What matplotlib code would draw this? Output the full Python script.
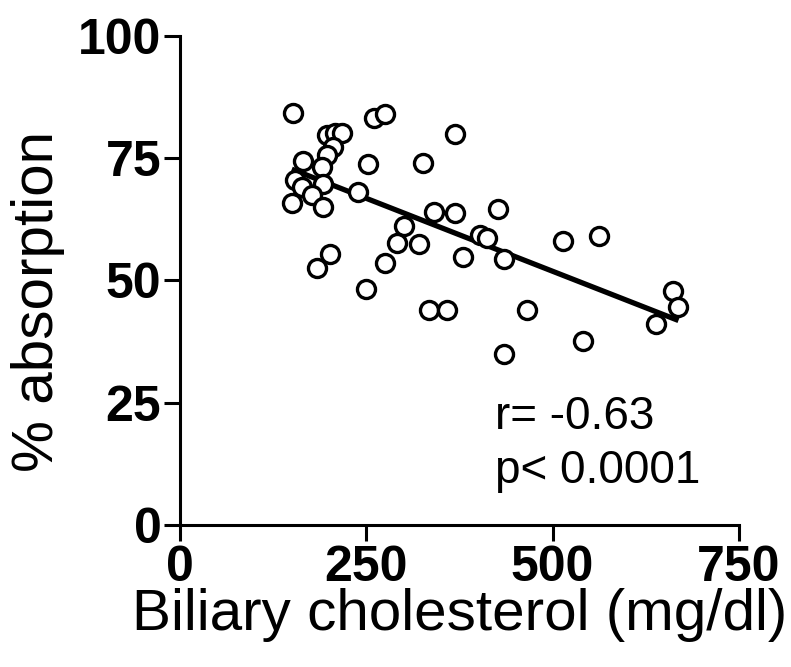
import numpy as np
import matplotlib.pyplot as plt

# biliary cholesterol (mg/dl) vs % absorption
chol = [152, 261, 275, 197, 208, 217, 369, 205, 197, 165, 191, 252, 326,
        154, 164, 192, 177, 150, 192, 239, 341, 369, 427, 301, 291, 321,
        403, 412, 435, 380, 275, 201, 184, 250, 334, 358, 466, 514, 562,
        662, 669, 639, 541, 435]
absorb = [84.3, 83.2, 84.0, 79.8, 80.2, 80.2, 80.0, 77.3, 75.7, 74.4, 73.2,
          73.8, 74.0, 70.6, 69.1, 69.7, 67.5, 65.8, 65.0, 68.1, 64.0, 63.8,
          64.6, 61.1, 57.7, 57.5, 59.3, 58.7, 54.4, 54.8, 53.6, 55.4, 52.6,
          48.3, 44.0, 44.0, 44.0, 58.1, 59.1, 47.9, 44.6, 41.1, 37.6, 35.0]

chol = np.array(chol)
absorb = np.array(absorb)

sans = ['Liberation Sans', 'DejaVu Sans']

fig = plt.figure(figsize=(7.91, 6.67), dpi=100)
ax = fig.add_axes([0.2276, 0.213, 0.7064, 0.733])

slope, icpt = np.polyfit(chol, absorb, 1)
xl = np.array([chol.min(), chol.max()])
ax.plot(xl, icpt + slope * xl, color='black', lw=3.8, solid_capstyle='butt')

ax.plot(chol, absorb, 'o', ms=13, mfc='white', mec='black', mew=2.4,
        clip_on=False)

ax.set_xlim(0, 750)
ax.set_ylim(0, 100)
ax.set_xticks([0, 250, 500, 750])
ax.set_yticks([0, 25, 50, 75, 100])
for s in ['top', 'right']:
    ax.spines[s].set_visible(False)
for s in ['left', 'bottom']:
    ax.spines[s].set_linewidth(2.2)
ax.tick_params(width=2.2, length=11.5)
ax.tick_params(axis='x', pad=3)
ax.tick_params(axis='y', pad=2)
for lab in ax.get_xticklabels() + ax.get_yticklabels():
    lab.set_family(sans)
    lab.set_weight('bold')
    lab.set_fontsize(36)

ax.set_xlabel('Biliary cholesterol (mg/dl)', fontsize=42, family=sans,
              labelpad=-2)
ax.set_ylabel('% absorption', fontsize=42, family=sans)
ax.yaxis.set_label_coords(-0.206, 0.458)

ax.text(423, 22.1, 'r= -0.63', fontsize=33, va='center', family=sans)
ax.text(423, 11.0, 'p< 0.0001', fontsize=33, va='center', family=sans)

fig.savefig('out.png', dpi=100)
